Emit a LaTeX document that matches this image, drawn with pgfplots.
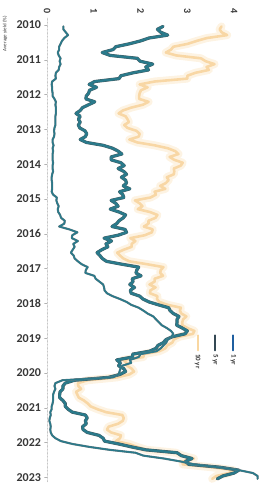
\documentclass[border=0pt]{standalone}
\usepackage{pgfplots}
\pgfplotsset{compat=1.18}
\usepackage{pgfplotstable}
\usepackage{fontspec}
\setmainfont{Carlito}
\definecolor{teal1}{RGB}{42,122,139}
\definecolor{tealedge}{RGB}{70,90,95}
\definecolor{org}{RGB}{244,186,105}
\definecolor{orgl}{RGB}{250,222,175}
\definecolor{lblue}{RGB}{31,95,160}
\definecolor{sdark}{RGB}{52,72,84}
\definecolor{txt}{RGB}{55,55,55}
\pgfplotstableread{
yr mo y1 y5 y10
2010 1 0.35 2.48 3.73
2010 2 0.35 2.36 3.69
2010 3 0.40 2.43 3.73
2010 4 0.45 2.58 3.85
2010 5 0.37 2.18 3.42
2010 6 0.32 2.00 3.20
2010 7 0.29 1.76 3.01
2010 8 0.26 1.47 2.70
2010 9 0.26 1.41 2.65
2010 10 0.23 1.18 2.54
2010 11 0.25 1.35 2.76
2010 12 0.29 1.93 3.29
2011 1 0.27 1.99 3.39
2011 2 0.29 2.26 3.58
2011 3 0.26 2.11 3.41
2011 4 0.25 2.17 3.46
2011 5 0.19 1.84 3.17
2011 6 0.18 1.58 3.00
2011 7 0.19 1.54 3.00
2011 8 0.11 1.02 2.30
2011 9 0.10 0.90 1.98
2011 10 0.11 1.06 2.15
2011 11 0.11 0.91 2.01
2011 12 0.12 0.89 1.98
2012 1 0.12 0.84 1.97
2012 2 0.16 0.83 1.97
2012 3 0.19 1.02 2.17
2012 4 0.18 0.89 2.05
2012 5 0.19 0.76 1.80
2012 6 0.19 0.71 1.62
2012 7 0.19 0.62 1.53
2012 8 0.18 0.71 1.68
2012 9 0.18 0.67 1.72
2012 10 0.18 0.71 1.75
2012 11 0.18 0.67 1.65
2012 12 0.16 0.70 1.72
2013 1 0.15 0.81 1.91
2013 2 0.16 0.85 1.98
2013 3 0.15 0.82 1.96
2013 4 0.12 0.71 1.76
2013 5 0.12 0.84 1.93
2013 6 0.14 1.20 2.30
2013 7 0.12 1.40 2.58
2013 8 0.13 1.52 2.74
2013 9 0.12 1.60 2.81
2013 10 0.12 1.37 2.62
2013 11 0.12 1.37 2.72
2013 12 0.13 1.58 2.90
2014 1 0.12 1.65 2.86
2014 2 0.12 1.52 2.71
2014 3 0.13 1.64 2.72
2014 4 0.11 1.70 2.71
2014 5 0.10 1.59 2.56
2014 6 0.10 1.68 2.60
2014 7 0.11 1.70 2.54
2014 8 0.11 1.63 2.42
2014 9 0.11 1.77 2.53
2014 10 0.10 1.55 2.30
2014 11 0.13 1.62 2.33
2014 12 0.21 1.64 2.21
2015 1 0.20 1.37 1.88
2015 2 0.22 1.47 1.98
2015 3 0.25 1.52 2.04
2015 4 0.23 1.35 1.94
2015 5 0.24 1.54 2.20
2015 6 0.28 1.68 2.36
2015 7 0.30 1.63 2.32
2015 8 0.38 1.54 2.17
2015 9 0.37 1.49 2.17
2015 10 0.26 1.39 2.07
2015 11 0.48 1.67 2.26
2015 12 0.65 1.70 2.24
2016 1 0.54 1.52 2.09
2016 2 0.53 1.22 1.78
2016 3 0.66 1.38 1.89
2016 4 0.56 1.26 1.81
2016 5 0.59 1.30 1.81
2016 6 0.55 1.17 1.64
2016 7 0.51 1.07 1.50
2016 8 0.57 1.13 1.56
2016 9 0.59 1.18 1.63
2016 10 0.66 1.27 1.76
2016 11 0.74 1.60 2.14
2016 12 0.87 1.96 2.49
2017 1 0.83 1.92 2.43
2017 2 0.82 1.90 2.42
2017 3 1.01 2.01 2.48
2017 4 1.04 1.82 2.30
2017 5 1.12 1.84 2.30
2017 6 1.20 1.77 2.19
2017 7 1.22 1.87 2.32
2017 8 1.23 1.78 2.21
2017 9 1.28 1.80 2.20
2017 10 1.40 1.98 2.36
2017 11 1.56 2.05 2.35
2017 12 1.70 2.18 2.40
2018 1 1.80 2.38 2.58
2018 2 1.96 2.60 2.86
2018 3 2.06 2.63 2.84
2018 4 2.15 2.70 2.87
2018 5 2.27 2.82 2.98
2018 6 2.33 2.78 2.91
2018 7 2.39 2.78 2.89
2018 8 2.45 2.77 2.89
2018 9 2.56 2.89 3.00
2018 10 2.65 3.00 3.15
2018 11 2.70 2.95 3.12
2018 12 2.66 2.68 2.83
2019 1 2.58 2.54 2.71
2019 2 2.55 2.49 2.68
2019 3 2.49 2.37 2.57
2019 4 2.43 2.33 2.53
2019 5 2.34 2.19 2.40
2019 6 2.00 1.83 2.07
2019 7 1.96 1.83 2.06
2019 8 1.77 1.49 1.63
2019 9 1.80 1.57 1.70
2019 10 1.61 1.53 1.71
2019 11 1.57 1.64 1.81
2019 12 1.55 1.68 1.86
2020 1 1.53 1.56 1.76
2020 2 1.41 1.32 1.50
2020 3 0.33 0.59 0.87
2020 4 0.18 0.39 0.66
2020 5 0.16 0.34 0.67
2020 6 0.18 0.34 0.73
2020 7 0.15 0.28 0.62
2020 8 0.13 0.27 0.65
2020 9 0.13 0.27 0.68
2020 10 0.13 0.34 0.79
2020 11 0.12 0.39 0.87
2020 12 0.10 0.39 0.93
2021 1 0.10 0.45 1.08
2021 2 0.07 0.54 1.26
2021 3 0.08 0.82 1.61
2021 4 0.06 0.86 1.64
2021 5 0.05 0.82 1.62
2021 6 0.07 0.84 1.52
2021 7 0.08 0.76 1.32
2021 8 0.07 0.77 1.28
2021 9 0.08 0.86 1.37
2021 10 0.11 1.11 1.58
2021 11 0.18 1.20 1.56
2021 12 0.30 1.23 1.47
2022 1 0.55 1.54 1.76
2022 2 0.91 1.81 1.93
2022 3 1.34 2.11 2.13
2022 4 1.89 2.78 2.75
2022 5 2.06 2.87 2.90
2022 6 2.50 3.10 3.14
2022 7 2.85 2.96 2.90
2022 8 3.15 3.03 2.90
2022 9 3.65 3.70 3.52
2022 10 4.10 4.10 3.98
2022 11 4.40 4.00 3.89
2022 12 4.50 3.76 3.62
2023 1 4.50 3.64 3.53
}\yields
\begin{document}
\begin{tikzpicture}
\path[use as bounding box] (-47pt,18pt) rectangle (228pt,-466pt);
\begin{axis}[
  at={(0,0)}, anchor=north west,
  scale only axis, width=224.6pt, height=463.9pt,
  xmin=0, xmax=4.8, ymin=2009.8, ymax=2023.13, y dir=reverse,
  axis x line*=top, axis y line*=left,
  x axis line style={draw=none},
  y axis line style={draw=gray!55, densely dotted, -},
  xtick={0,1,2,3,4}, ytick={2010,2011,...,2023},
  /pgf/number format/1000 sep={},
  /pgf/number format/assume math mode=true,
  x tick label style={rotate=-90, anchor=east, font=\bfseries\fontsize{10}{10}\selectfont, text=txt},
  y tick label style={font=\bfseries\fontsize{12}{12}\selectfont, text=txt},
  xticklabel shift=-2pt,
  tick style={gray!60}, major tick length=2.5pt, tick align=outside,
  x tick style={draw=none},
  clip=false,
  line join=round, line cap=round,
]
\addplot[no marks, line width=8pt, color=orgl, opacity=0.35] table[x=y10, y expr=\thisrow{yr}+(\thisrow{mo}-0.5)/12] {\yields};
\addplot[no marks, line width=2.6pt, color=org, opacity=0.5] table[x=y10, y expr=\thisrow{yr}+(\thisrow{mo}-0.5)/12] {\yields};
\addplot[no marks, line width=3.2pt, color=tealedge] table[x=y5, y expr=\thisrow{yr}+(\thisrow{mo}-0.5)/12] {\yields};
\addplot[no marks, line width=2.4pt, color=teal1] table[x=y5, y expr=\thisrow{yr}+(\thisrow{mo}-0.5)/12] {\yields};
\addplot[no marks, line width=2.1pt, color=tealedge!80] table[x=y1, y expr=\thisrow{yr}+(\thisrow{mo}-0.5)/12] {\yields};
\addplot[no marks, line width=1.5pt, color=teal1] table[x=y1, y expr=\thisrow{yr}+(\thisrow{mo}-0.5)/12] {\yields};
% legend
\draw[orgl!80!org, line width=2pt] (axis cs:3.22,2018.92) -- (axis cs:3.22,2019.35);
\draw[sdark, line width=2pt] (axis cs:3.60,2018.92) -- (axis cs:3.60,2019.35);
\draw[lblue, line width=2pt] (axis cs:3.98,2018.92) -- (axis cs:3.98,2019.35);
\node[rotate=-90, anchor=west, font=\bfseries\fontsize{7}{7}\selectfont, text=txt, inner sep=0pt] at (axis cs:3.22,2019.45) {10 yr};
\node[rotate=-90, anchor=west, font=\bfseries\fontsize{7}{7}\selectfont, text=txt, inner sep=0pt] at (axis cs:3.60,2019.45) {5 yr};
\node[rotate=-90, anchor=west, font=\bfseries\fontsize{7}{7}\selectfont, text=txt, inner sep=0pt] at (axis cs:3.98,2019.45) {1 yr};
\node[rotate=90, font=\fontsize{5}{5}\selectfont, text=txt, inner sep=0pt] at ([xshift=-42pt]axis cs:0,2010.25) {Average yield (\%)};
\end{axis}
\end{tikzpicture}
\end{document}
